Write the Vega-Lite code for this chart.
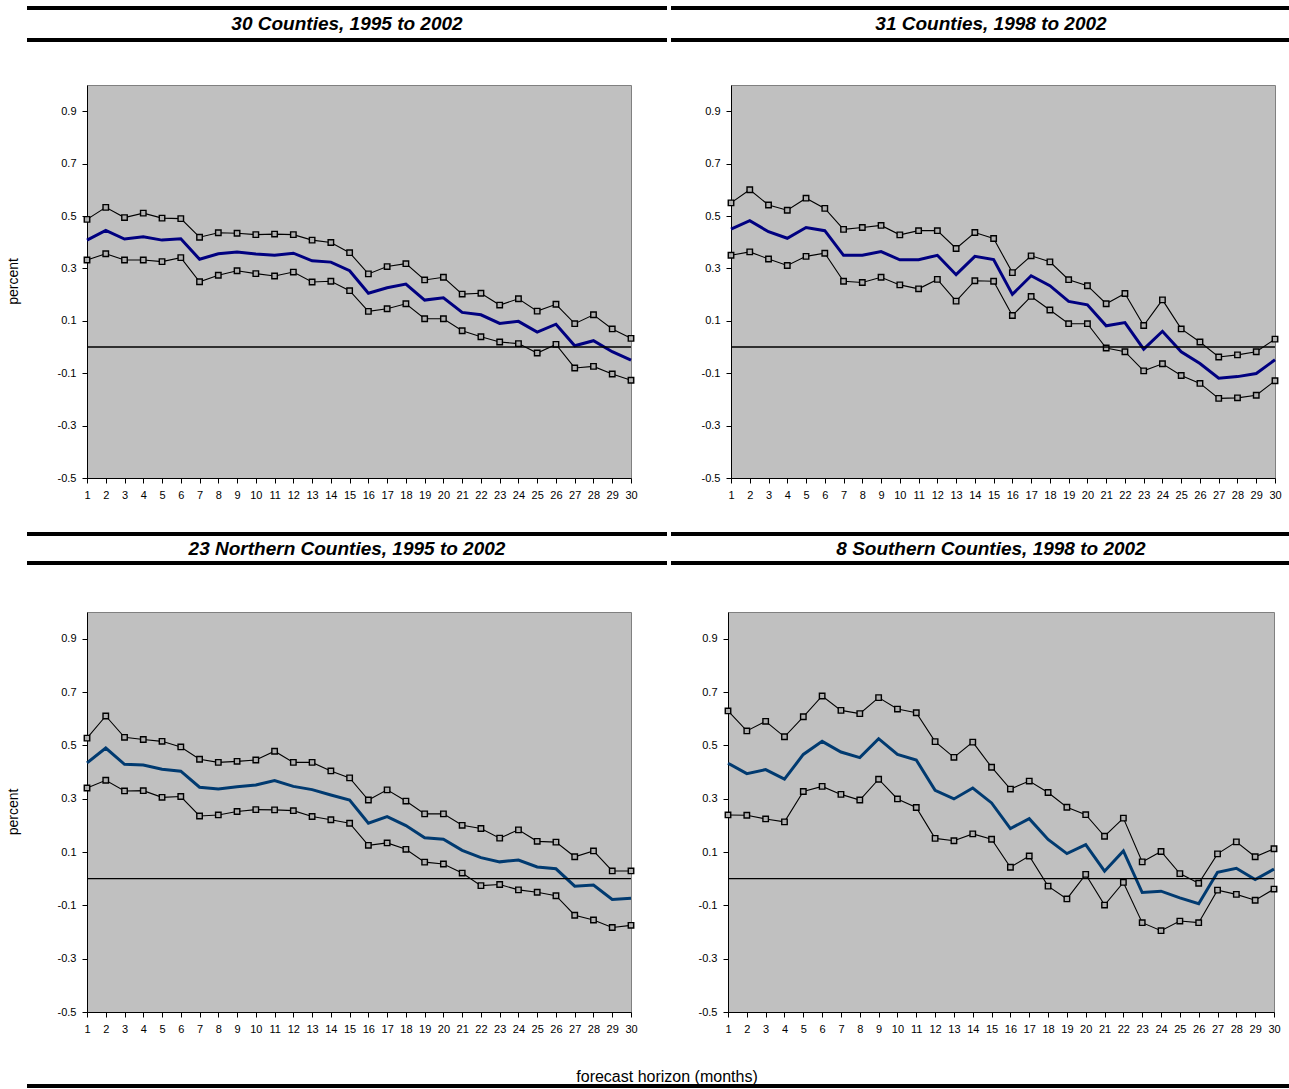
{
  "$schema": "https://vega.github.io/schema/vega-lite/v6.json",
  "background": "white",
  "padding": {"left": 7, "top": 2, "right": 0, "bottom": 0},
  "config": {
    "font": "Liberation Sans",
    "view": {"fill": "#c0c0c0", "stroke": "#808080", "strokeWidth": 1},
    "axis": {"domainColor": "#000", "tickColor": "#000", "labelColor": "#000", "labelFontSize": 11, "labelFont": "Liberation Sans", "grid": false, "tickSize": 5, "domainWidth": 1, "tickWidth": 1, "titleColor": "#000", "titleFont": "Liberation Sans", "titleFontWeight": "normal"}
  },
  "datasets": {
    "p1": [
      {"h":1,"hi":0.487,"mid":0.408,"lo":0.332},{"h":2,"hi":0.533,"mid":0.445,"lo":0.356},{"h":3,"hi":0.494,"mid":0.412,"lo":0.332},{"h":4,"hi":0.511,"mid":0.421,"lo":0.332},{"h":5,"hi":0.492,"mid":0.408,"lo":0.326},{"h":6,"hi":0.490,"mid":0.413,"lo":0.341},{"h":7,"hi":0.419,"mid":0.335,"lo":0.249},{"h":8,"hi":0.436,"mid":0.356,"lo":0.274},{"h":9,"hi":0.434,"mid":0.363,"lo":0.291},{"h":10,"hi":0.429,"mid":0.355,"lo":0.280},{"h":11,"hi":0.431,"mid":0.350,"lo":0.271},{"h":12,"hi":0.429,"mid":0.358,"lo":0.286},{"h":13,"hi":0.408,"mid":0.329,"lo":0.248},{"h":14,"hi":0.399,"mid":0.324,"lo":0.251},{"h":15,"hi":0.360,"mid":0.291,"lo":0.215},{"h":16,"hi":0.279,"mid":0.205,"lo":0.136},{"h":17,"hi":0.307,"mid":0.226,"lo":0.146},{"h":18,"hi":0.318,"mid":0.240,"lo":0.165},{"h":19,"hi":0.256,"mid":0.179,"lo":0.108},{"h":20,"hi":0.266,"mid":0.188,"lo":0.108},{"h":21,"hi":0.202,"mid":0.132,"lo":0.062},{"h":22,"hi":0.205,"mid":0.123,"lo":0.039},{"h":23,"hi":0.160,"mid":0.090,"lo":0.019},{"h":24,"hi":0.184,"mid":0.098,"lo":0.013},{"h":25,"hi":0.137,"mid":0.057,"lo":-0.023},{"h":26,"hi":0.163,"mid":0.087,"lo":0.010},{"h":27,"hi":0.089,"mid":0.005,"lo":-0.080},{"h":28,"hi":0.123,"mid":0.024,"lo":-0.074},{"h":29,"hi":0.069,"mid":-0.018,"lo":-0.103},{"h":30,"hi":0.033,"mid":-0.050,"lo":-0.127}
    ],
    "p2": [
      {"h":1,"hi":0.550,"mid":0.450,"lo":0.350},{"h":2,"hi":0.600,"mid":0.482,"lo":0.363},{"h":3,"hi":0.542,"mid":0.440,"lo":0.336},{"h":4,"hi":0.522,"mid":0.415,"lo":0.311},{"h":5,"hi":0.568,"mid":0.456,"lo":0.346},{"h":6,"hi":0.529,"mid":0.444,"lo":0.358},{"h":7,"hi":0.449,"mid":0.350,"lo":0.251},{"h":8,"hi":0.456,"mid":0.350,"lo":0.246},{"h":9,"hi":0.464,"mid":0.364,"lo":0.266},{"h":10,"hi":0.428,"mid":0.333,"lo":0.237},{"h":11,"hi":0.444,"mid":0.333,"lo":0.222},{"h":12,"hi":0.444,"mid":0.350,"lo":0.258},{"h":13,"hi":0.376,"mid":0.276,"lo":0.175},{"h":14,"hi":0.437,"mid":0.346,"lo":0.253},{"h":15,"hi":0.414,"mid":0.334,"lo":0.251},{"h":16,"hi":0.284,"mid":0.201,"lo":0.120},{"h":17,"hi":0.348,"mid":0.272,"lo":0.193},{"h":18,"hi":0.325,"mid":0.234,"lo":0.141},{"h":19,"hi":0.257,"mid":0.174,"lo":0.089},{"h":20,"hi":0.234,"mid":0.161,"lo":0.089},{"h":21,"hi":0.165,"mid":0.081,"lo":-0.004},{"h":22,"hi":0.204,"mid":0.093,"lo":-0.018},{"h":23,"hi":0.082,"mid":-0.008,"lo":-0.091},{"h":24,"hi":0.180,"mid":0.060,"lo":-0.064},{"h":25,"hi":0.069,"mid":-0.018,"lo":-0.109},{"h":26,"hi":0.019,"mid":-0.063,"lo":-0.139},{"h":27,"hi":-0.038,"mid":-0.119,"lo":-0.196},{"h":28,"hi":-0.030,"mid":-0.113,"lo":-0.194},{"h":29,"hi":-0.018,"mid":-0.101,"lo":-0.184},{"h":30,"hi":0.030,"mid":-0.049,"lo":-0.129}
    ],
    "p3": [
      {"h":1,"hi":0.527,"mid":0.434,"lo":0.340},{"h":2,"hi":0.610,"mid":0.490,"lo":0.369},{"h":3,"hi":0.530,"mid":0.429,"lo":0.329},{"h":4,"hi":0.522,"mid":0.426,"lo":0.330},{"h":5,"hi":0.515,"mid":0.410,"lo":0.305},{"h":6,"hi":0.494,"mid":0.403,"lo":0.308},{"h":7,"hi":0.448,"mid":0.343,"lo":0.235},{"h":8,"hi":0.436,"mid":0.336,"lo":0.239},{"h":9,"hi":0.440,"mid":0.345,"lo":0.252},{"h":10,"hi":0.445,"mid":0.351,"lo":0.259},{"h":11,"hi":0.478,"mid":0.368,"lo":0.258},{"h":12,"hi":0.436,"mid":0.346,"lo":0.255},{"h":13,"hi":0.436,"mid":0.334,"lo":0.233},{"h":14,"hi":0.404,"mid":0.314,"lo":0.221},{"h":15,"hi":0.378,"mid":0.295,"lo":0.208},{"h":16,"hi":0.295,"mid":0.208,"lo":0.125},{"h":17,"hi":0.333,"mid":0.233,"lo":0.134},{"h":18,"hi":0.291,"mid":0.199,"lo":0.110},{"h":19,"hi":0.243,"mid":0.153,"lo":0.062},{"h":20,"hi":0.243,"mid":0.148,"lo":0.055},{"h":21,"hi":0.200,"mid":0.106,"lo":0.021},{"h":22,"hi":0.188,"mid":0.079,"lo":-0.026},{"h":23,"hi":0.152,"mid":0.063,"lo":-0.022},{"h":24,"hi":0.183,"mid":0.070,"lo":-0.042},{"h":25,"hi":0.140,"mid":0.044,"lo":-0.051},{"h":26,"hi":0.137,"mid":0.037,"lo":-0.064},{"h":27,"hi":0.082,"mid":-0.028,"lo":-0.137},{"h":28,"hi":0.104,"mid":-0.024,"lo":-0.155},{"h":29,"hi":0.029,"mid":-0.078,"lo":-0.183},{"h":30,"hi":0.029,"mid":-0.073,"lo":-0.175}
    ],
    "p4": [
      {"h":1,"hi":0.629,"mid":0.433,"lo":0.239},{"h":2,"hi":0.554,"mid":0.394,"lo":0.238},{"h":3,"hi":0.590,"mid":0.409,"lo":0.224},{"h":4,"hi":0.532,"mid":0.373,"lo":0.213},{"h":5,"hi":0.607,"mid":0.466,"lo":0.327},{"h":6,"hi":0.685,"mid":0.515,"lo":0.346},{"h":7,"hi":0.631,"mid":0.475,"lo":0.316},{"h":8,"hi":0.619,"mid":0.454,"lo":0.295},{"h":9,"hi":0.679,"mid":0.525,"lo":0.373},{"h":10,"hi":0.636,"mid":0.466,"lo":0.299},{"h":11,"hi":0.622,"mid":0.445,"lo":0.267},{"h":12,"hi":0.514,"mid":0.331,"lo":0.151},{"h":13,"hi":0.455,"mid":0.299,"lo":0.142},{"h":14,"hi":0.512,"mid":0.340,"lo":0.168},{"h":15,"hi":0.418,"mid":0.284,"lo":0.148},{"h":16,"hi":0.336,"mid":0.188,"lo":0.043},{"h":17,"hi":0.366,"mid":0.225,"lo":0.085},{"h":18,"hi":0.323,"mid":0.147,"lo":-0.028},{"h":19,"hi":0.268,"mid":0.094,"lo":-0.076},{"h":20,"hi":0.240,"mid":0.128,"lo":0.016},{"h":21,"hi":0.159,"mid":0.028,"lo":-0.099},{"h":22,"hi":0.227,"mid":0.104,"lo":-0.014},{"h":23,"hi":0.063,"mid":-0.052,"lo":-0.165},{"h":24,"hi":0.102,"mid":-0.047,"lo":-0.195},{"h":25,"hi":0.019,"mid":-0.072,"lo":-0.159},{"h":26,"hi":-0.017,"mid":-0.094,"lo":-0.165},{"h":27,"hi":0.093,"mid":0.024,"lo":-0.043},{"h":28,"hi":0.138,"mid":0.039,"lo":-0.059},{"h":29,"hi":0.082,"mid":-0.003,"lo":-0.081},{"h":30,"hi":0.112,"mid":0.036,"lo":-0.039}
    ]
  },
  "spacing": 27,
  "vconcat": [
    {
      "spacing": 42,
      "vconcat": [
        {
          "spacing": 0,
          "hconcat": [
            {"width": 18, "height": 1, "view": {"stroke": null, "fill": null}, "data": {"values": [{}]}, "mark": {"type": "text"}, "encoding": {"text": {"value": ""}}},
            {"width": 640, "height": 32, "view": {"stroke": null, "fill": null}, "data": {"values": [{"title": "30 Counties, 1995 to 2002"}]},
             "layer": [
               {"mark": {"type": "rule", "strokeWidth": 4, "color": "#000"}, "encoding": {"y": {"datum": 1, "scale": {"domain": [0, 1]}, "axis": null}}},
               {"mark": {"type": "rule", "strokeWidth": 4, "color": "#000"}, "encoding": {"y": {"datum": 0, "scale": {"domain": [0, 1]}, "axis": null}}},
               {"mark": {"type": "text", "fontSize": 19, "fontWeight": "bold", "fontStyle": "italic", "color": "#000"}, "encoding": {"text": {"field": "title"}}}
             ]},
            {"width": 622, "height": 32, "view": {"stroke": null, "fill": null}, "data": {"values": [{"title": "31 Counties, 1998 to 2002"}]},
             "layer": [
               {"mark": {"type": "rule", "strokeWidth": 4, "color": "#000"}, "encoding": {"y": {"datum": 1, "scale": {"domain": [0, 1]}, "axis": null}}},
               {"mark": {"type": "rule", "strokeWidth": 4, "color": "#000"}, "encoding": {"y": {"datum": 0, "scale": {"domain": [0, 1]}, "axis": null}}},
               {"mark": {"type": "text", "fontSize": 19, "fontWeight": "bold", "fontStyle": "italic", "color": "#000", "dx": 9}, "encoding": {"text": {"field": "title"}}}
             ]}
          ]
        },
        {
          "spacing": 35,
          "hconcat": [
            {"width": 14, "height": 393, "view": {"stroke": null, "fill": null}, "data": {"values": [{"t": "percent"}]}, "mark": {"type": "text", "angle": 270, "fontSize": 14, "color": "#000"}, "encoding": {"text": {"field": "t"}}},
            {
              "spacing": 62,
              "hconcat": [
                {"width": 544, "height": 393, "data": {"name": "p1"},
                 "encoding": {"x": {"field": "h", "type": "quantitative", "scale": {"domain": [1, 30], "nice": false, "zero": false}, "axis": {"values": [1,2,3,4,5,6,7,8,9,10,11,12,13,14,15,16,17,18,19,20,21,22,23,24,25,26,27,28,29,30], "format": "d", "labelFlush": false, "labelOverlap": false, "labelPadding": 6, "title": null}}},
                 "layer": [
                   {"mark": {"type": "line", "color": "#000", "strokeWidth": 1.1, "point": {"shape": "square", "size": 30, "filled": true, "fill": "#b0b0b0", "stroke": "#000", "strokeWidth": 1.4}},
                    "encoding": {"y": {"field": "hi", "type": "quantitative", "scale": {"domain": [-0.5, 1], "nice": false}, "axis": {"values": [-0.5,-0.3,-0.1,0.1,0.3,0.5,0.7,0.9], "format": ".1f", "labelExpr": "replace(datum.label, '\u2212', '-')", "labelPadding": 6, "title": null}}}},
                   {"mark": {"type": "line", "color": "#000", "strokeWidth": 1.1, "point": {"shape": "square", "size": 30, "filled": true, "fill": "#b0b0b0", "stroke": "#000", "strokeWidth": 1.4}},
                    "encoding": {"y": {"field": "lo", "type": "quantitative", "scale": {"domain": [-0.5, 1], "nice": false}, "axis": {"values": [-0.5,-0.3,-0.1,0.1,0.3,0.5,0.7,0.9], "format": ".1f", "labelExpr": "replace(datum.label, '\u2212', '-')", "labelPadding": 6, "title": null}}}},
                   {"mark": {"type": "line", "color": "#000080", "strokeWidth": 3},
                    "encoding": {"y": {"field": "mid", "type": "quantitative", "scale": {"domain": [-0.5, 1], "nice": false}, "axis": {"values": [-0.5,-0.3,-0.1,0.1,0.3,0.5,0.7,0.9], "format": ".1f", "labelExpr": "replace(datum.label, '\u2212', '-')", "labelPadding": 6, "title": null}}}},
                   {"data": {"values": [{"ref": "zero"}]}, "mark": {"type": "rule", "color": "#000", "strokeWidth": 1.3}, "encoding": {"x": null, "y": {"datum": 0}}}
                 ]},
                {"width": 544, "height": 393, "data": {"name": "p2"},
                 "encoding": {"x": {"field": "h", "type": "quantitative", "scale": {"domain": [1, 30], "nice": false, "zero": false}, "axis": {"values": [1,2,3,4,5,6,7,8,9,10,11,12,13,14,15,16,17,18,19,20,21,22,23,24,25,26,27,28,29,30], "format": "d", "labelFlush": false, "labelOverlap": false, "labelPadding": 6, "title": null}}},
                 "layer": [
                   {"mark": {"type": "line", "color": "#000", "strokeWidth": 1.1, "point": {"shape": "square", "size": 30, "filled": true, "fill": "#b0b0b0", "stroke": "#000", "strokeWidth": 1.4}},
                    "encoding": {"y": {"field": "hi", "type": "quantitative", "scale": {"domain": [-0.5, 1], "nice": false}, "axis": {"values": [-0.5,-0.3,-0.1,0.1,0.3,0.5,0.7,0.9], "format": ".1f", "labelExpr": "replace(datum.label, '\u2212', '-')", "labelPadding": 6, "title": null}}}},
                   {"mark": {"type": "line", "color": "#000", "strokeWidth": 1.1, "point": {"shape": "square", "size": 30, "filled": true, "fill": "#b0b0b0", "stroke": "#000", "strokeWidth": 1.4}},
                    "encoding": {"y": {"field": "lo", "type": "quantitative", "scale": {"domain": [-0.5, 1], "nice": false}, "axis": {"values": [-0.5,-0.3,-0.1,0.1,0.3,0.5,0.7,0.9], "format": ".1f", "labelExpr": "replace(datum.label, '\u2212', '-')", "labelPadding": 6, "title": null}}}},
                   {"mark": {"type": "line", "color": "#000080", "strokeWidth": 3},
                    "encoding": {"y": {"field": "mid", "type": "quantitative", "scale": {"domain": [-0.5, 1], "nice": false}, "axis": {"values": [-0.5,-0.3,-0.1,0.1,0.3,0.5,0.7,0.9], "format": ".1f", "labelExpr": "replace(datum.label, '\u2212', '-')", "labelPadding": 6, "title": null}}}},
                   {"data": {"values": [{"ref": "zero"}]}, "mark": {"type": "rule", "color": "#000", "strokeWidth": 1.3}, "encoding": {"x": null, "y": {"datum": 0}}}
                 ]}
              ]
            }
          ]
        }
      ]
    },
    {
      "spacing": 46,
      "vconcat": [
        {
          "spacing": 0,
          "hconcat": [
            {"width": 18, "height": 1, "view": {"stroke": null, "fill": null}, "data": {"values": [{}]}, "mark": {"type": "text"}, "encoding": {"text": {"value": ""}}},
            {"width": 640, "height": 29, "view": {"stroke": null, "fill": null}, "data": {"values": [{"title": "23 Northern Counties, 1995 to 2002"}]},
             "layer": [
               {"mark": {"type": "rule", "strokeWidth": 4, "color": "#000"}, "encoding": {"y": {"datum": 1, "scale": {"domain": [0, 1]}, "axis": null}}},
               {"mark": {"type": "rule", "strokeWidth": 4, "color": "#000"}, "encoding": {"y": {"datum": 0, "scale": {"domain": [0, 1]}, "axis": null}}},
               {"mark": {"type": "text", "fontSize": 19, "fontWeight": "bold", "fontStyle": "italic", "color": "#000"}, "encoding": {"text": {"field": "title"}}}
             ]},
            {"width": 622, "height": 29, "view": {"stroke": null, "fill": null}, "data": {"values": [{"title": "8 Southern Counties, 1998 to 2002"}]},
             "layer": [
               {"mark": {"type": "rule", "strokeWidth": 4, "color": "#000"}, "encoding": {"y": {"datum": 1, "scale": {"domain": [0, 1]}, "axis": null}}},
               {"mark": {"type": "rule", "strokeWidth": 4, "color": "#000"}, "encoding": {"y": {"datum": 0, "scale": {"domain": [0, 1]}, "axis": null}}},
               {"mark": {"type": "text", "fontSize": 19, "fontWeight": "bold", "fontStyle": "italic", "color": "#000", "dx": 9}, "encoding": {"text": {"field": "title"}}}
             ]}
          ]
        },
        {
          "spacing": 35,
          "hconcat": [
            {"width": 14, "height": 400, "view": {"stroke": null, "fill": null}, "data": {"values": [{"t": "percent"}]}, "mark": {"type": "text", "angle": 270, "fontSize": 14, "color": "#000"}, "encoding": {"text": {"field": "t"}}},
            {
              "spacing": 59,
              "hconcat": [
                {"width": 544, "height": 400, "data": {"name": "p3"},
                 "encoding": {"x": {"field": "h", "type": "quantitative", "scale": {"domain": [1, 30], "nice": false, "zero": false}, "axis": {"values": [1,2,3,4,5,6,7,8,9,10,11,12,13,14,15,16,17,18,19,20,21,22,23,24,25,26,27,28,29,30], "format": "d", "labelFlush": false, "labelOverlap": false, "labelPadding": 6, "title": null}}},
                 "layer": [
                   {"mark": {"type": "line", "color": "#000", "strokeWidth": 1.1, "point": {"shape": "square", "size": 30, "filled": true, "fill": "#b0b0b0", "stroke": "#000", "strokeWidth": 1.4}},
                    "encoding": {"y": {"field": "hi", "type": "quantitative", "scale": {"domain": [-0.5, 1], "nice": false}, "axis": {"values": [-0.5,-0.3,-0.1,0.1,0.3,0.5,0.7,0.9], "format": ".1f", "labelExpr": "replace(datum.label, '\u2212', '-')", "labelPadding": 6, "title": null}}}},
                   {"mark": {"type": "line", "color": "#000", "strokeWidth": 1.1, "point": {"shape": "square", "size": 30, "filled": true, "fill": "#b0b0b0", "stroke": "#000", "strokeWidth": 1.4}},
                    "encoding": {"y": {"field": "lo", "type": "quantitative", "scale": {"domain": [-0.5, 1], "nice": false}, "axis": {"values": [-0.5,-0.3,-0.1,0.1,0.3,0.5,0.7,0.9], "format": ".1f", "labelExpr": "replace(datum.label, '\u2212', '-')", "labelPadding": 6, "title": null}}}},
                   {"mark": {"type": "line", "color": "#003A70", "strokeWidth": 3},
                    "encoding": {"y": {"field": "mid", "type": "quantitative", "scale": {"domain": [-0.5, 1], "nice": false}, "axis": {"values": [-0.5,-0.3,-0.1,0.1,0.3,0.5,0.7,0.9], "format": ".1f", "labelExpr": "replace(datum.label, '\u2212', '-')", "labelPadding": 6, "title": null}}}},
                   {"data": {"values": [{"ref": "zero"}]}, "mark": {"type": "rule", "color": "#000", "strokeWidth": 1.3}, "encoding": {"x": null, "y": {"datum": 0}}}
                 ]},
                {"width": 546, "height": 400, "data": {"name": "p4"},
                 "encoding": {"x": {"field": "h", "type": "quantitative", "scale": {"domain": [1, 30], "nice": false, "zero": false}, "axis": {"values": [1,2,3,4,5,6,7,8,9,10,11,12,13,14,15,16,17,18,19,20,21,22,23,24,25,26,27,28,29,30], "format": "d", "labelFlush": false, "labelOverlap": false, "labelPadding": 6, "title": null}}},
                 "layer": [
                   {"mark": {"type": "line", "color": "#000", "strokeWidth": 1.1, "point": {"shape": "square", "size": 30, "filled": true, "fill": "#b0b0b0", "stroke": "#000", "strokeWidth": 1.4}},
                    "encoding": {"y": {"field": "hi", "type": "quantitative", "scale": {"domain": [-0.5, 1], "nice": false}, "axis": {"values": [-0.5,-0.3,-0.1,0.1,0.3,0.5,0.7,0.9], "format": ".1f", "labelExpr": "replace(datum.label, '\u2212', '-')", "labelPadding": 6, "title": null}}}},
                   {"mark": {"type": "line", "color": "#000", "strokeWidth": 1.1, "point": {"shape": "square", "size": 30, "filled": true, "fill": "#b0b0b0", "stroke": "#000", "strokeWidth": 1.4}},
                    "encoding": {"y": {"field": "lo", "type": "quantitative", "scale": {"domain": [-0.5, 1], "nice": false}, "axis": {"values": [-0.5,-0.3,-0.1,0.1,0.3,0.5,0.7,0.9], "format": ".1f", "labelExpr": "replace(datum.label, '\u2212', '-')", "labelPadding": 6, "title": null}}}},
                   {"mark": {"type": "line", "color": "#003A70", "strokeWidth": 3},
                    "encoding": {"y": {"field": "mid", "type": "quantitative", "scale": {"domain": [-0.5, 1], "nice": false}, "axis": {"values": [-0.5,-0.3,-0.1,0.1,0.3,0.5,0.7,0.9], "format": ".1f", "labelExpr": "replace(datum.label, '\u2212', '-')", "labelPadding": 6, "title": null}}}},
                   {"data": {"values": [{"ref": "zero"}]}, "mark": {"type": "rule", "color": "#000", "strokeWidth": 1.3}, "encoding": {"x": null, "y": {"datum": 0}}}
                 ]}
              ]
            }
          ]
        }
      ]
    },
    {
      "spacing": 0,
      "hconcat": [
        {"width": 18, "height": 1, "view": {"stroke": null, "fill": null}, "data": {"values": [{}]}, "mark": {"type": "text"}, "encoding": {"text": {"value": ""}}},
        {"width": 1262, "height": 18, "view": {"stroke": null, "fill": null}, "data": {"values": [{"label": "forecast horizon (months)"}]},
         "layer": [
           {"mark": {"type": "rule", "strokeWidth": 4, "color": "#000"}, "encoding": {"y": {"datum": 0, "scale": {"domain": [0, 1]}, "axis": null}}},
           {"mark": {"type": "text", "fontSize": 16, "color": "#000", "dx": 9}, "encoding": {"text": {"field": "label"}}}
         ]}
      ]
    }
  ]
}
